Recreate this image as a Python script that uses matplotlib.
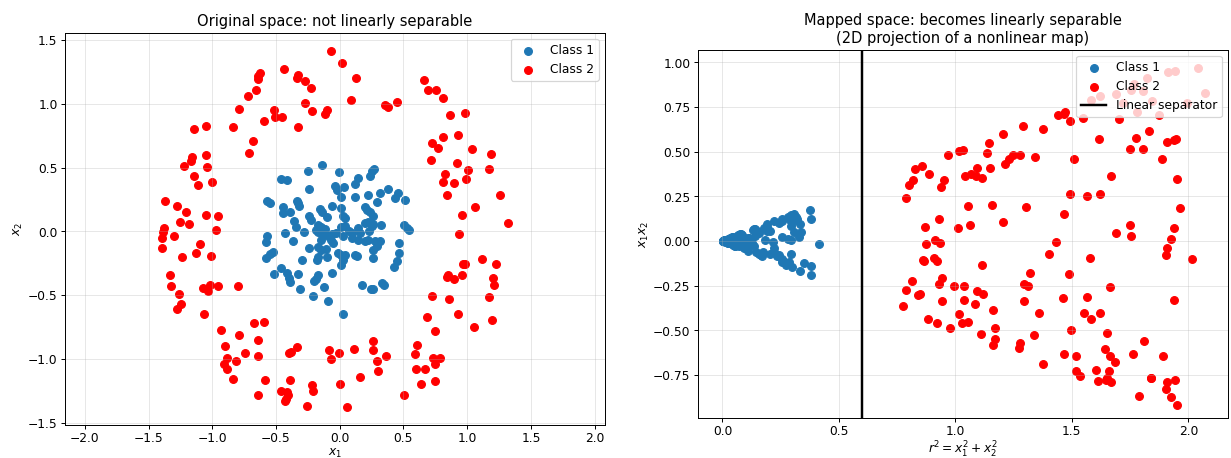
import numpy as np
import matplotlib
matplotlib.use("Agg")
import matplotlib.pyplot as plt

# inner disc (class 1)
class1_x1 = [-0.137, -0.251, -0.006, -0.457, -0.414, 0.269, 0.254, 0.238, 0.140, 0.121,
             -0.034, -0.024, 0.034, -0.240, 0.380, 0.457, 0.430, 0.317, 0.222, 0.116,
             0.013, 0.293, 0.510, -0.338, -0.323, -0.330, -0.444, -0.449, -0.391, -0.156,
             -0.143, -0.061, 0.008, 0.024, 0.040, 0.198, 0.214, 0.238, 0.259, -0.101,
             -0.240, -0.227, -0.357, -0.174, 0.198, 0.224, 0.264, 0.502, -0.568, -0.549,
             -0.341, -0.145, -0.188, -0.119, 0.008, 0.045, 0.140, -0.428, -0.283, -0.058,
             -0.026, 0.074, 0.097, 0.232, -0.172, -0.132, 0.158, 0.325, 0.251, 0.529,
             0.541, -0.573, -0.576, -0.521, -0.549, -0.581, -0.513, -0.093, 0.026, 0.093,
             0.145, -0.367, -0.145, -0.066, -0.053, 0.198, 0.224, 0.277, 0.317, 0.291,
             0.264, 0.462, -0.238, -0.172, -0.145, -0.111, -0.097, -0.013, 0.013, 0.040,
             0.026, 0.013, 0.119, 0.132, 0.462, 0.449, 0.422, 0.259, -0.293, -0.177,
             -0.172, -0.457, -0.414, -0.396, -0.388, -0.330, -0.172, -0.190, -0.204, -0.061,
             0.177, 0.243, 0.264, 0.330, 0.349, -0.127, -0.309, -0.212, -0.095, 0.024]
class1_x2 = [0.523, 0.471, 0.466, 0.413, 0.400, 0.492, 0.476, 0.432, 0.416, 0.376,
             0.355, 0.326, 0.350, 0.331, 0.331, 0.302, 0.263, 0.302, 0.287, 0.268,
             0.271, 0.231, 0.247, 0.239, 0.197, 0.223, 0.189, 0.142, 0.152, 0.176,
             0.152, 0.203, 0.182, 0.118, 0.105, 0.192, 0.171, 0.150, 0.124, 0.116,
             0.118, 0.092, 0.079, 0.053, 0.066, 0.073, 0.061, 0.050, 0.242, 0.223,
             0.034, 0.034, 0.013, 0.018, 0.034, 0.039, 0.029, -0.013, -0.008, -0.018,
             -0.013, 0.006, -0.013, 0.002, -0.008, -0.026, -0.013, 0.047, 0.039, 0.026,
             0.013, -0.039, -0.084, -0.158, -0.176, -0.211, -0.334, -0.039, -0.039, -0.053,
             -0.066, -0.073, -0.066, -0.066, -0.092, -0.079, -0.066, -0.079, -0.079, -0.118,
             -0.144, -0.087, -0.132, -0.126, -0.144, -0.140, -0.197, -0.171, -0.184, -0.184,
             -0.223, -0.263, -0.184, -0.189, -0.166, -0.229, -0.276, -0.211, -0.223, -0.223,
             -0.197, -0.290, -0.329, -0.369, -0.395, -0.337, -0.342, -0.376, -0.387, -0.329,
             -0.418, -0.450, -0.455, -0.403, -0.421, -0.434, -0.455, -0.503, -0.545, -0.645]

# outer ring (class 2)
class2_x1 = [-0.626, -0.644, -0.642, -0.658, -0.723, -0.787, -0.513, -0.505, -0.597, -1.052,
             -1.143, -0.840, -0.684, -0.708, -1.159, -1.167, -1.052, -1.223, -1.040, -1.143,
             -1.109, -1.006, -1.371, -1.273, -1.210, -1.048, -0.953, -1.254, -1.183, -1.381,
             -1.387, -1.300, -0.967, -0.071, -0.441, 0.021, -0.325, -0.333, -0.272, -0.222,
             0.124, 0.085, -0.275, 0.357, 0.375, 0.452, -0.452, -0.219, -0.097, -0.119,
             -0.330, 0.660, 0.692, 0.755, 0.808, 0.866, 0.983, 0.929, 0.808, 0.727,
             0.774, 1.038, 1.186, 0.719, 0.919, 1.175, 1.009, 0.826, 0.808, 0.898,
             0.988, 0.842, 1.260, 1.059, 0.956, 1.321, 0.935, -1.392, -1.395, -1.094,
             -1.128, -1.234, -1.009, -1.329, -1.326, -1.262, -1.246, -1.276, -1.070, -1.017,
             -1.030, -0.953, -0.795, -1.062, -0.935, -0.792, -0.674, -0.594, -0.642, -0.901,
             -0.747, -0.882, -0.906, -0.882, -0.814, -0.642, -0.840, -0.586, -0.645, -0.335,
             -0.383, -0.396, -0.087, -0.071, -0.008, 0.113, 0.259, 0.261, 0.362, 0.293,
             0.303, 0.158, -0.394, -0.219, -0.212, 0.002, -0.462, -0.410, -0.404, -0.422,
             -0.430, -0.254, 0.058, 0.502, 1.117, 1.226, 0.964, 0.985, 0.845, 0.853,
             0.898, 0.959, 1.204, 1.212, 0.721, 0.861, 1.173, 0.687, 0.925, 1.194,
             1.052, 0.745, 0.610, 0.589, 0.731, 0.790, 0.747, 0.600, 0.668, 0.639,
             0.747]
class2_x2 = [1.245, 1.223, 1.194, 1.107, 1.063, 0.957, 0.953, 0.894, 0.868, 0.826,
             0.803, 0.818, 0.713, 0.618, 0.584, 0.550, 0.600, 0.515, 0.505, 0.434,
             0.361, 0.384, 0.239, 0.203, 0.152, 0.129, 0.118, 0.077, 0.061, 0.029,
             -0.008, -0.034, 0.010, 1.418, 1.271, 1.324, 1.231, 1.200, 1.178, 1.123,
             1.205, 1.028, 1.008, 0.994, 0.973, 1.013, 0.900, 0.945, 0.949, 0.923,
             0.823, 1.186, 1.113, 1.111, 1.050, 0.913, 0.926, 0.760, 0.744, 0.697,
             0.657, 0.645, 0.610, 0.558, 0.539, 0.487, 0.479, 0.452, 0.387, 0.381,
             0.413, 0.284, 0.287, 0.192, 0.129, 0.069, -0.018, -0.053, -0.132, -0.097,
             -0.171, -0.203, -0.192, -0.345, -0.426, -0.489, -0.566, -0.605, -0.442, -0.424,
             -0.466, -0.432, -0.429, -0.647, -0.771, -0.813, -0.718, -0.710, -0.855, -0.900,
             -0.953, -0.994, -1.044, -1.079, -1.013, -0.981, -1.156, -1.166, -1.286, -0.908,
             -0.945, -0.953, -0.929, -1.002, -0.955, -0.921, -0.863, -0.929, -0.976, -1.016,
             -1.097, -1.139, -1.163, -1.202, -1.255, -1.197, -1.249, -1.257, -1.281, -1.316,
             -1.328, -1.373, -1.379, -1.281, -0.215, -0.253, -0.258, -0.255, -0.355, -0.345,
             -0.371, -0.345, -0.363, -0.424, -0.507, -0.534, -0.515, -0.669, -0.645, -0.692,
             -0.750, -0.779, -0.894, -0.965, -0.992, -0.994, -1.044, -1.076, -1.076, -1.197,
             -1.170]

separator_r2 = 0.6

c1 = np.column_stack([class1_x1, class1_x2])
c2 = np.column_stack([class2_x1, class2_x2])


def feature_map(pts):
    # (r^2, x1*x2) view of the nonlinear map
    r2 = pts[:, 0] ** 2 + pts[:, 1] ** 2
    prod = pts[:, 0] * pts[:, 1]
    return r2, prod


plt.rcParams['xtick.major.pad'] = 2.0
plt.rcParams['ytick.major.pad'] = 2.5
plt.rcParams['axes.labelpad'] = 2.0

fig = plt.figure(figsize=(14, 5.21), dpi=87.93)
ax1 = fig.add_axes([0.0528, 0.072, 0.4387, 0.856])
ax2 = fig.add_axes([0.567, 0.0873, 0.4305, 0.8035])

ax1.scatter(c1[:, 0], c1[:, 1], s=40, color='#1f77b4', label='Class 1')
ax1.scatter(c2[:, 0], c2[:, 1], s=40, color='red', label='Class 2')
ax1.set_aspect('equal', adjustable='datalim')
ax1.set_title('Original space: not linearly separable')
ax1.set_xlabel('$x_1$')
ax1.set_ylabel('$x_2$')
ax1.grid(True, alpha=0.3)
ax1.legend(loc='upper right')

r2_1, p_1 = feature_map(c1)
r2_2, p_2 = feature_map(c2)
ax2.scatter(r2_1, p_1, s=40, color='#1f77b4', label='Class 1')
ax2.scatter(r2_2, p_2, s=40, color='red', label='Class 2')
ax2.axvline(separator_r2, color='black', linewidth=2, label='Linear separator')
ax2.set_xlim(-0.105, 2.17)
ax2.set_ylim(-0.99, 1.07)
ax2.set_title('Mapped space: becomes linearly separable\n(2D projection of a nonlinear map)')
ax2.set_xlabel('$r^2 = x_1^2 + x_2^2$')
ax2.set_ylabel('$x_1 x_2$')
ax2.grid(True, alpha=0.3)
ax2.legend(loc='upper right')

fig.savefig('out.png', dpi=87.93)
